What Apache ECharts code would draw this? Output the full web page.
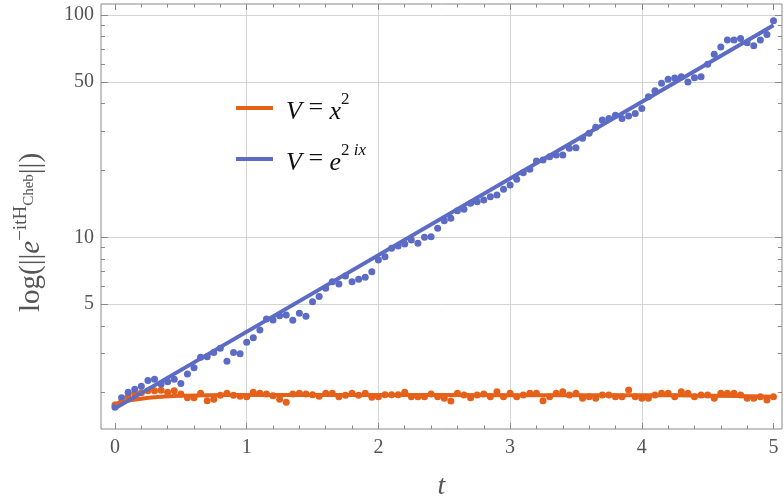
<!DOCTYPE html>
<html><head><meta charset="utf-8">
<script src="https://cdn.jsdelivr.net/npm/echarts@6/dist/echarts.min.js"></script>
<style>html,body{margin:0;padding:0;background:#fff}#c{width:784px;height:500px}</style>
</head><body><div id="c"></div>
<script>
// sample times (t)
const tSamples = [0,0.05,0.1,0.15,0.2,0.25,0.3,0.35,0.4,0.45,0.5,0.55,0.6,0.65,0.7,0.75,0.8,0.85,0.9,0.95,
1,1.05,1.1,1.15,1.2,1.25,1.3,1.35,1.4,1.45,1.5,1.55,1.6,1.65,1.7,1.75,1.8,1.85,1.9,1.95,
2,2.05,2.1,2.15,2.2,2.25,2.3,2.35,2.4,2.45,2.5,2.55,2.6,2.65,2.7,2.75,2.8,2.85,2.9,2.95,
3,3.05,3.1,3.15,3.2,3.25,3.3,3.35,3.4,3.45,3.5,3.55,3.6,3.65,3.7,3.75,3.8,3.85,3.9,3.95,
4,4.05,4.1,4.15,4.2,4.25,4.3,4.35,4.4,4.45,4.5,4.55,4.6,4.65,4.7,4.75,4.8,4.85,4.9,4.95,5];
// V = x^2 points
const orangePts = [1.76,1.81,1.92,1.98,2.00,2.04,2.04,2.05,2.01,2.04,1.975,1.90,1.90,1.99,1.84,1.87,1.95,1.99,1.95,1.93,
1.92,2.01,1.99,1.975,1.94,1.87,1.81,1.975,1.99,1.975,1.96,1.93,1.99,1.99,1.92,1.95,1.99,1.95,1.99,1.91,
1.92,1.96,1.96,1.96,2.01,1.92,1.92,1.92,1.975,1.92,1.886,1.835,1.987,1.953,1.90,1.953,1.975,1.919,2.02,1.919,
1.987,1.919,1.953,1.987,1.987,1.84,1.919,1.987,2.02,1.953,1.987,1.886,1.919,1.886,1.953,1.953,1.919,1.919,2.056,1.919,
1.886,1.886,1.953,1.987,1.987,1.919,2.02,1.987,1.919,1.953,1.953,1.886,1.987,1.987,1.987,1.953,1.886,1.886,1.919,1.854,1.919];
// V = e^{2ix} points
const bluePts = [1.72,1.90,2.01,2.07,2.14,2.27,2.30,2.19,2.24,2.30,2.20,2.43,2.59,2.89,2.90,3.03,3.17,2.77,3.03,2.99,
3.37,3.53,3.83,4.29,4.25,4.44,4.47,4.23,4.55,4.42,5.13,5.41,5.90,6.31,6.17,6.70,6.31,6.47,6.61,7.00,
7.91,8.18,8.92,9.14,9.33,9.72,9.40,10.0,10.06,10.98,11.88,12.18,13.18,13.37,14.22,14.45,14.72,15.23,15.49,16.44,
17.19,18.23,19.53,20.22,22.03,22.27,23.05,23.46,23.46,25.14,25.3,27.88,29.36,31.24,33.7,34.2,35.4,34.2,35.1,36.1,
38.0,42.9,45.6,49.3,51.4,52.1,52.8,49.96,52.2,52.8,60.0,66.6,71.8,77.2,77.2,78.5,75.1,72.8,77.2,81.8,94.3];
// fitted curves
const orangeFitT = [0,0.1,0.2,0.3,0.45,0.7,1,2,3,4,4.5,5];
const orangeFitV = [1.78,1.84,1.88,1.91,1.935,1.95,1.955,1.955,1.95,1.95,1.94,1.92];
const blueFitT = [0,5];
const blueFitV = [1.70,90];
// ticks
const xMajorTicks = [0,1,2,3,4,5];
const xMinorTicks = [0.2,0.4,0.6,0.8,1.2,1.4,1.6,1.8,2.2,2.4,2.6,2.8,3.2,3.4,3.6,3.8,4.2,4.4,4.6,4.8];
const xGridLines = [1,2,3,4];
const yMajorTicks = [5,10,50,100];
const yMinorTicks = [2,3,4,6,7,8,9,20,30,40,60,70,80,90];
const seriesNames = ['V = x2','V = e2ix'];

const xMin = -0.1063, xMax = 5.0645, yMin = 1.373, yMax = 112.1;
const ORANGE = '#E5611A', BLUE = '#5C6BC4';
const FRAME = '#8a8a8a', LABEL = '#555555';
const serif = '"Liberation Serif","DejaVu Serif",serif';

const lmin = Math.log10(yMin), lmax = Math.log10(yMax);
const zip = (a,b) => a.map((v,i)=>[v,b[i]]);

function xAx(pos, ticks, len, opts) {
  return Object.assign({
    type:'value', position:pos, min:xMin, max:xMax,
    axisLine:{show:false, onZero:false},
    axisTick:{show:true, inside:true, length:len, customValues:ticks, lineStyle:{color:FRAME, width:1}},
    axisLabel:{show:false}, splitLine:{show:false}
  }, opts||{});
}
function yAx(pos, ticks, len, opts) {
  return Object.assign({
    type:'value', position:pos, min:lmin, max:lmax,
    axisLine:{show:false, onZero:false},
    axisTick:{show:true, inside:true, length:len, customValues:ticks.map(Math.log10), lineStyle:{color:FRAME, width:1}},
    axisLabel:{show:false}, splitLine:{show:false}
  }, opts||{});
}

const chart = echarts.init(document.getElementById('c'), null, {renderer:'canvas'});
chart.setOption({
  animation:false,
  grid:{left:101, right:2, top:4, bottom:71, containLabel:false, outerBoundsMode:'none',
        show:true, borderColor:FRAME, borderWidth:1, backgroundColor:'transparent'},
  legend:{
    orient:'vertical', left:231, top:86, itemWidth:37, itemHeight:4, itemGap:17, icon:'rect',
    data:seriesNames,
    formatter: n => n === seriesNames[0] ? '{i|V} = {i|x}{s|2}' : '{i|V} = {i|e}{s|2 }{si|ix}',
    textStyle:{
      color:'#111', fontFamily:serif, fontSize:26, padding:[0,0,0,8],
      rich:{
        i:{fontStyle:'italic', fontFamily:serif, fontSize:26, color:'#111', lineHeight:34, verticalAlign:'bottom'},
        s:{fontFamily:serif, fontSize:17, color:'#111', lineHeight:20, verticalAlign:'top'},
        si:{fontFamily:serif, fontSize:17, fontStyle:'italic', color:'#111', lineHeight:20, verticalAlign:'top'}
      }
    }
  },
  xAxis:[
    {type:'value', min:xMin, max:xMax, position:'bottom', show:true,
     axisLine:{show:false,onZero:false}, axisTick:{show:false}, axisLabel:{show:false}, splitLine:{show:false}},
    xAx('bottom', xMajorTicks, 6, {
      axisLabel:{show:true, customValues:xMajorTicks, margin:9, color:LABEL, fontFamily:serif, fontSize:20},
      name:'t', nameLocation:'middle', nameGap:44,
      nameTextStyle:{fontFamily:serif, fontStyle:'italic', fontSize:28, color:LABEL}
    }),
    xAx('bottom', xMinorTicks, 3.5),
    xAx('top', xMajorTicks, 6),
    xAx('top', xMinorTicks, 3.5),
    xAx('bottom', xGridLines, 0, {axisTick:{show:false, customValues:xGridLines},
      splitLine:{show:true, lineStyle:{color:'#d4d4d4', width:1}}})
  ],
  yAxis:[
    {type:'log', logBase:10, min:yMin, max:yMax, position:'left',
     axisLine:{show:false,onZero:false}, axisTick:{show:false}, axisLabel:{show:false}, splitLine:{show:false}, minorTick:{show:false}},
    yAx('left', yMajorTicks, 7, {
      axisLabel:{show:true, customValues:yMajorTicks.map(Math.log10), margin:7, color:LABEL, fontFamily:serif, fontSize:20,
        formatter: v => String(Math.round(Math.pow(10, v)))},
      splitLine:{show:true, lineStyle:{color:'#d4d4d4', width:1}},
      name:'{a|log(||}{e|e}{s|−it}{s|H}{b|Cheb}{z|||)}', nameLocation:'middle', nameRotate:90, nameGap:55,
      nameTextStyle:{
        rich:{
          a:{fontFamily:serif, fontSize:29, color:LABEL, lineHeight:34, verticalAlign:'bottom'},
          z:{fontFamily:serif, fontSize:29, color:LABEL, lineHeight:34, verticalAlign:'bottom', padding:[0,32,0,0]},
          e:{fontFamily:serif, fontSize:29, fontStyle:'italic', color:LABEL, lineHeight:34, verticalAlign:'bottom'},
          s:{fontFamily:serif, fontSize:19, color:LABEL, lineHeight:21, verticalAlign:'top'},
          b:{fontFamily:serif, fontSize:15, color:LABEL, lineHeight:17, verticalAlign:'top', padding:[10,0,0,0]}
        }
      }
    }),
    yAx('left', yMinorTicks, 4),
    yAx('right', yMajorTicks, 7),
    yAx('right', yMinorTicks, 4)
  ],
  series:[
    {type:'scatter', name:'V = x2 pts', xAxisIndex:0, yAxisIndex:0, data:zip(tSamples, orangePts),
     symbolSize:7, itemStyle:{color:ORANGE, opacity:1}, z:2},
    {type:'scatter', name:'V = e2ix pts', xAxisIndex:0, yAxisIndex:0, data:zip(tSamples, bluePts),
     symbolSize:7, itemStyle:{color:BLUE, opacity:1}, z:2},
    {type:'line', name:seriesNames[0], xAxisIndex:0, yAxisIndex:0, data:zip(orangeFitT, orangeFitV),
     smooth:0.3, showSymbol:false, symbol:'none', lineStyle:{color:ORANGE, width:4}, itemStyle:{color:ORANGE}, z:3},
    {type:'line', name:seriesNames[1], xAxisIndex:0, yAxisIndex:0, data:zip(blueFitT, blueFitV),
     showSymbol:false, symbol:'none', lineStyle:{color:BLUE, width:4}, itemStyle:{color:BLUE}, z:4}
  ]
});
</script>
</body></html>
